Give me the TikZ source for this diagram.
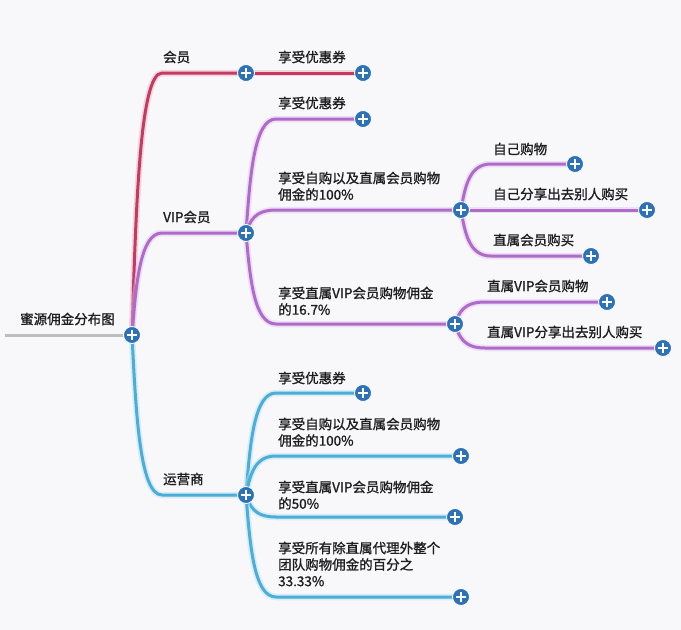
\documentclass[tikz,border=0pt]{standalone}
\usepackage{fontspec}
\setmainfont{Noto Sans CJK SC}[FakeBold=1.2]
\usetikzlibrary{calc}
\definecolor{bgc}{HTML}{F8F8FA}
\definecolor{memc}{HTML}{C43A62}
\definecolor{vipc}{HTML}{B06ACB}
\definecolor{opc}{HTML}{4AAED8}
\definecolor{plusc}{HTML}{2D72B6}
\definecolor{txt}{HTML}{1E1E1E}
\definecolor{rootc}{HTML}{BDBDBD}
\pgfdeclarelayer{bg}\pgfdeclarelayer{edges}\pgfsetlayers{bg,edges,main}
\tikzset{
  plus/.style={circle, fill=plusc, draw=white, line width=0.8pt, minimum size=17pt, inner sep=0pt,
    path picture={
      \fill[white] ([xshift=-5pt,yshift=-1.1pt]path picture bounding box.center) rectangle ([xshift=5pt,yshift=1.1pt]path picture bounding box.center);
      \fill[white] ([xshift=-1.1pt,yshift=-5pt]path picture bounding box.center) rectangle ([xshift=1.1pt,yshift=5pt]path picture bounding box.center);
    }},
  lbl/.style={anchor=west, inner sep=0pt, text=txt, font=\fontsize{13.5}{16.5}\selectfont},
  mlbl/.style={anchor=north west, inner sep=0pt, align=left, text=txt, font=\fontsize{13.5}{16.5}\selectfont},
  br/.style={draw=#1, line width=3pt, line cap=round, preaction={draw=#1!40, line width=6.5pt, opacity=0.45}},
}
\newcommand\mmedge[3]{%
  \draw[br=#3] let \p1=(#1.center), \p2=(#2.center) in
    (\p1) .. controls ({\x1+4pt},{0.5*(\y1)+0.5*(\y2)}) and ({\x1+8pt},{\y2}) .. ({\x1+30pt},{\y2}) -- (\p2);
}
\begin{document}
\begin{tikzpicture}[x=1pt,y=-1pt]
\begin{pgfonlayer}{bg}
  \fill[bgc] (0,0) rectangle (681,630);
\end{pgfonlayer}
\useasboundingbox (0,0) rectangle (681,630);

% plus nodes
\node[plus] (root) at (132,335) {};
\node[plus] (m) at (246,73) {};
\node[plus] (v) at (246,233) {};
\node[plus] (o) at (246,495) {};
\node[plus] (m1) at (363,73) {};
\node[plus] (v1) at (363,119) {};
\node[plus] (v2) at (461,210) {};
\node[plus] (v3) at (455,324) {};
\node[plus] (v21) at (575,164) {};
\node[plus] (v22) at (647,210) {};
\node[plus] (v23) at (591,256) {};
\node[plus] (v31) at (607,302) {};
\node[plus] (v32) at (663,348) {};
\node[plus] (o1) at (363,393) {};
\node[plus] (o2) at (461,456) {};
\node[plus] (o3) at (455,517) {};
\node[plus] (o4) at (461,597) {};
\coordinate (rs) at (5,335);

\begin{pgfonlayer}{edges}
  \draw[draw=rootc, line width=3pt] (rs) -- (root.center);
  \mmedge{root}{m}{memc}
  \mmedge{root}{v}{vipc}
  \mmedge{root}{o}{opc}
  \mmedge{m}{m1}{memc}
  \mmedge{v}{v1}{vipc}
  \mmedge{v}{v2}{vipc}
  \mmedge{v}{v3}{vipc}
  \mmedge{v2}{v21}{vipc}
  \mmedge{v2}{v22}{vipc}
  \mmedge{v2}{v23}{vipc}
  \mmedge{v3}{v31}{vipc}
  \mmedge{v3}{v32}{vipc}
  \mmedge{o}{o1}{opc}
  \mmedge{o}{o2}{opc}
  \mmedge{o}{o3}{opc}
  \mmedge{o}{o4}{opc}
\end{pgfonlayer}

% labels
\node[lbl] (troot) at (20,319) {蜜源佣金分布图};
\node[lbl] (tm) at (163,57) {会员};
\node[lbl] (tv) at (163,217) {VIP会员};
\node[lbl] (to) at (163,479) {运营商};
\node[lbl] (tm1) at (278,57) {享受优惠券};
\node[lbl] (tv1) at (278,103) {享受优惠券};
\node[mlbl] (tv2) at (278,171.5) {享受自购以及直属会员购物\\佣金的100\%};
\node[mlbl] (tv3) at (278,286.5) {享受直属VIP会员购物佣金\\的16.7\%};
\node[lbl] (tv21) at (493,149) {自己购物};
\node[lbl] (tv22) at (493,194) {自己分享出去别人购买};
\node[lbl] (tv23) at (493,240) {直属会员购买};
\node[lbl] (tv31) at (487,286) {直属VIP会员购物};
\node[lbl] (tv32) at (487,332) {直属VIP分享出去别人购买};
\node[lbl] (to1) at (278,378) {享受优惠券};
\node[mlbl] (to2) at (278,417.5) {享受自购以及直属会员购物\\佣金的100\%};
\node[mlbl] (to3) at (278,480.5) {享受直属VIP会员购物佣金\\的50\%};
\node[mlbl] (to4) at (278,541.5) {享受所有除直属代理外整个\\团队购物佣金的百分之\\33.33\%};
\end{tikzpicture}
\end{document}
